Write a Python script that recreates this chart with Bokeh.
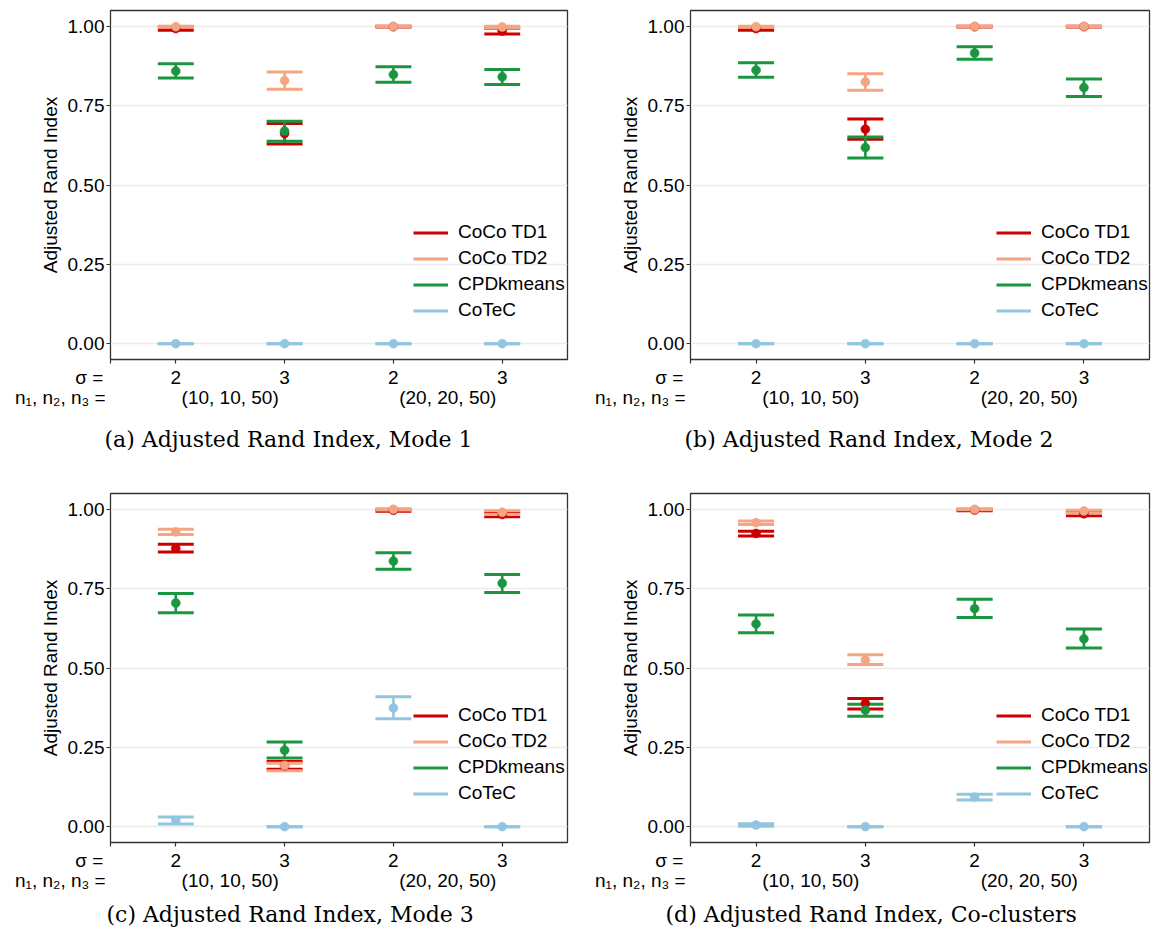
import numpy as np
from bokeh.plotting import figure
from bokeh.models import (Range1d, FixedTicker, Legend, LegendItem, NumeralTickFormatter,
                          LinearAxis, Title)
from bokeh.layouts import column, row
from bokeh.embed import file_html
from bokeh.resources import INLINE

# ---------------- data ----------------
methods = ["CoCo TD1", "CoCo TD2", "CPDkmeans", "CoTeC"]
colors = ["#CC0000", "#F4A582", "#1A9641", "#92C5DE"]
settings_x = [1, 2, 3, 4]
sigma_labels = ["2", "3", "2", "3"]
n_labels = ["(10, 10, 50)", "(20, 20, 50)"]
n_label_x = [1.5, 3.5]
sigma_row_title = "σ ="
n_row_title = "n₁, n₂, n₃ ="
captions = ["(a) Adjusted Rand Index, Mode 1", "(b) Adjusted Rand Index, Mode 2",
            "(c) Adjusted Rand Index, Mode 3", "(d) Adjusted Rand Index, Co-clusters"]

# rows: CoCo TD1, CoCo TD2, CPDkmeans, CoTeC ; columns: the four settings
mode1_mean = [[0.993, 0.662, 0.999, 0.985], [0.999, 0.829, 1.000, 0.998],
              [0.859, 0.670, 0.848, 0.841], [0.000, 0.000, 0.000, 0.000]]
mode1_lo = [[0.988, 0.629, 0.998, 0.976], [0.997, 0.802, 0.999, 0.995],
            [0.837, 0.638, 0.824, 0.817], [0.000, 0.000, 0.000, 0.000]]
mode1_hi = [[0.998, 0.694, 1.000, 0.994], [1.000, 0.856, 1.000, 1.000],
            [0.882, 0.701, 0.873, 0.864], [0.000, 0.000, 0.000, 0.000]]

mode2_mean = [[0.993, 0.676, 0.999, 0.999], [0.999, 0.825, 1.000, 1.000],
              [0.862, 0.618, 0.916, 0.807], [0.000, 0.000, 0.000, 0.000]]
mode2_lo = [[0.988, 0.644, 0.998, 0.998], [0.997, 0.799, 0.999, 0.999],
            [0.840, 0.585, 0.896, 0.779], [0.000, 0.000, 0.000, 0.000]]
mode2_hi = [[0.998, 0.708, 1.000, 1.000], [1.000, 0.851, 1.000, 1.000],
            [0.885, 0.651, 0.936, 0.834], [0.000, 0.000, 0.000, 0.000]]

mode3_mean = [[0.877, 0.192, 0.997, 0.984], [0.929, 0.193, 1.000, 0.991],
              [0.705, 0.241, 0.837, 0.767], [0.020, 0.000, 0.374, 0.000]]
mode3_lo = [[0.866, 0.181, 0.994, 0.977], [0.921, 0.176, 0.998, 0.984],
            [0.674, 0.216, 0.811, 0.738], [0.008, 0.000, 0.340, 0.000]]
mode3_hi = [[0.890, 0.205, 1.000, 0.990], [0.937, 0.200, 1.000, 0.996],
            [0.735, 0.267, 0.863, 0.795], [0.030, 0.000, 0.409, 0.000]]

cocl_mean = [[0.924, 0.388, 0.998, 0.986], [0.958, 0.525, 1.000, 0.995],
             [0.639, 0.367, 0.687, 0.592], [0.005, 0.000, 0.093, 0.000]]
cocl_lo = [[0.916, 0.371, 0.996, 0.980], [0.952, 0.511, 0.999, 0.988],
           [0.611, 0.348, 0.659, 0.563], [0.001, 0.000, 0.084, 0.000]]
cocl_hi = [[0.931, 0.404, 1.000, 0.993], [0.963, 0.542, 1.000, 0.997],
           [0.667, 0.386, 0.717, 0.623], [0.009, 0.000, 0.102, 0.000]]

y_ticks = [0.0, 0.25, 0.5, 0.75, 1.0]

SANS = "Liberation Sans"
SERIF = "DejaVu Serif"
FS = "19px"
CAP_HALF = 0.165
X_START, X_END = 0.4, 4.6
NBSP = "\u00a0"


def make_panel(mean, lo, hi, caption, width, height, mb_left, mb_right, mb_top, mb_bottom,
               legend_x, cap_offset, cap_standoff):
    p = figure(width=width, height=height, x_range=Range1d(X_START, X_END),
               y_range=Range1d(-0.05, 1.05),
               output_backend="svg", toolbar_location=None,
               min_border_left=mb_left, min_border_right=mb_right,
               min_border_top=mb_top, min_border_bottom=mb_bottom)
    p.background_fill_color = "white"
    p.border_fill_color = "white"
    p.outline_line_color = "#333333"
    p.outline_line_width = 1.3
    p.xgrid.visible = False
    p.ygrid.grid_line_color = "#EBEBEB"
    p.ygrid.grid_line_width = 1.3

    for ax in (p.xaxis[0], p.yaxis[0]):
        ax.axis_line_color = None
        ax.major_tick_line_color = "#333333"
        ax.major_tick_line_width = 1.2
        ax.major_tick_in = 0
        ax.major_tick_out = 4
        ax.minor_tick_line_color = None
        ax.major_label_text_font = SANS
        ax.major_label_text_font_size = FS
        ax.major_label_text_color = "black"

    p.yaxis.ticker = FixedTicker(ticks=y_ticks)
    p.yaxis.formatter = NumeralTickFormatter(format="0.00")
    p.yaxis.major_label_standoff = 2
    p.yaxis.axis_label = "Adjusted Rand Index"
    p.yaxis.axis_label_text_font = SANS
    p.yaxis.axis_label_text_font_size = FS
    p.yaxis.axis_label_text_font_style = "normal"
    p.yaxis.axis_label_text_color = "black"
    p.yaxis.axis_label_standoff = 4

    # first row under the panel: sigma values (the row title sits at the panel's left edge)
    p.xaxis.ticker = FixedTicker(ticks=[X_START] + settings_x)
    overrides = {x: s for x, s in zip(settings_x, sigma_labels)}
    overrides[X_START] = sigma_row_title + NBSP * 8
    p.xaxis.major_label_overrides = overrides
    p.xaxis.major_label_standoff = 3

    # second row: sample sizes
    ax2 = LinearAxis(ticker=FixedTicker(ticks=[X_START] + n_label_x))
    ov2 = {x: s for x, s in zip(n_label_x, n_labels)}
    ov2[X_START] = n_row_title + NBSP * 19
    ax2.major_label_overrides = ov2
    ax2.axis_line_color = None
    ax2.major_tick_line_color = None
    ax2.minor_tick_line_color = None
    ax2.major_tick_in = 0
    ax2.major_tick_out = 0
    ax2.major_label_standoff = -4
    ax2.major_label_text_font = SANS
    ax2.major_label_text_font_size = FS
    ax2.major_label_text_color = "black"
    p.add_layout(ax2, "below")

    p.add_layout(Title(text=caption, align="left", offset=cap_offset, standoff=cap_standoff,
                       text_font=SERIF, text_font_size="22px", text_font_style="normal",
                       text_color="black"), "below")

    xs = np.array(settings_x, dtype=float)
    cap_renderers = []
    for k, m in enumerate(methods):
        c = colors[k]
        p.segment(x0=xs, y0=lo[k], x1=xs, y1=hi[k], line_color=c, line_width=2.6)
        p.segment(x0=xs - CAP_HALF, y0=lo[k], x1=xs + CAP_HALF, y1=lo[k], line_color=c, line_width=3)
        r = p.segment(x0=xs - CAP_HALF, y0=hi[k], x1=xs + CAP_HALF, y1=hi[k], line_color=c, line_width=3)
        cap_renderers.append(r)
    for k, m in enumerate(methods):
        p.scatter(x=xs, y=mean[k], size=9, fill_color=colors[k], line_color=colors[k], line_width=0.5)
    items = [LegendItem(label=m, renderers=[cap_renderers[k]]) for k, m in enumerate(methods)]

    legend = Legend(items=items, location=(legend_x, 38), background_fill_alpha=0,
                    border_line_color=None, label_text_font=SANS, label_text_font_size=FS,
                    label_text_color="black", glyph_width=35, glyph_height=21, spacing=4,
                    padding=0, margin=0, label_standoff=10, label_height=21)
    p.add_layout(legend)
    return p


pa = make_panel(mode1_mean, mode1_lo, mode1_hi, captions[0], 580, 483, 110, 13, 10, 124, 303, -6, 28)
pb = make_panel(mode2_mean, mode2_lo, mode2_hi, captions[1], 578, 483, 110, 9, 10, 124, 306, -6, 28)
pc = make_panel(mode3_mean, mode3_lo, mode3_hi, captions[2], 580, 449, 110, 13, 10, 90, 303, -4, 12)
pd = make_panel(cocl_mean, cocl_lo, cocl_hi, captions[3], 578, 449, 110, 9, 10, 90, 306, -25, 12)

layout = column(row(pa, pb), row(pc, pd))
open("out.html", "w").write(file_html(layout, INLINE))
